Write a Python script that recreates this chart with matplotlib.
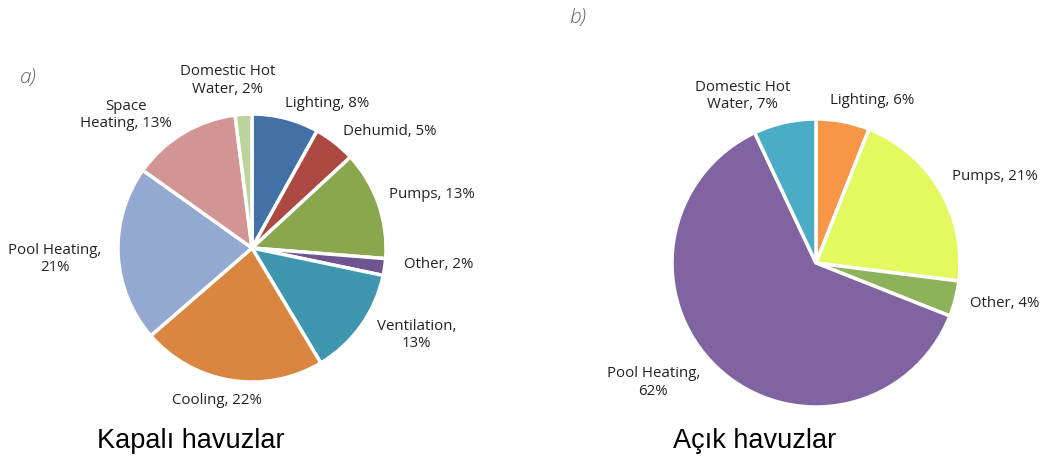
import matplotlib.pyplot as plt

# Kapalı havuzlar (indoor pools)
in_labels = ['Lighting', 'Dehumid', 'Pumps', 'Other', 'Ventilation',
             'Cooling', 'Pool Heating', 'Space Heating', 'Domestic Hot Water']
in_values = [8, 5, 13, 2, 13, 22, 21, 13, 2]
in_text = ['Lighting, 8%', 'Dehumid, 5%', 'Pumps, 13%', 'Other, 2%',
           'Ventilation,\n13%', 'Cooling, 22%', 'Pool Heating,\n21%',
           'Space\nHeating, 13%', 'Domestic Hot\nWater, 2%']
in_colors = ['#4470A8', '#AE4843', '#8BA74E', '#6E558F', '#3E97AE',
             '#DB8640', '#94A9D1', '#D39593', '#BCD39C']

# Açık havuzlar (outdoor pools)
out_labels = ['Lighting', 'Pumps', 'Other', 'Pool Heating', 'Domestic Hot Water']
out_values = [6, 21, 4, 62, 7]
out_text = ['Lighting, 6%', 'Pumps, 21%', 'Other, 4%',
            'Pool Heating,\n62%', 'Domestic Hot\nWater, 7%']
out_colors = ['#F79646', '#E3F95F', '#8DB35A', '#8064A2', '#4BACC6']

# label positions in units of pie radius
in_pos = [(0.56, 1.08), (1.03, 0.87), (1.34, 0.40), (1.39, -0.12), (1.23, -0.65),
          (-0.26, -1.14), (-1.47, -0.08), (-0.94, 0.99), (-0.18, 1.25)]
out_pos = [(0.39, 1.13), (1.24, 0.60), (1.31, -0.28), (-1.13, -0.83), (-0.51, 1.16)]

W, H = 1043, 459
fig = plt.figure(figsize=(W / 100, H / 100), dpi=100)


def make_pie(cx, cy, r, values, colors, texts, pos):
    # axes spanning +-1.6 radius around the centre (pixel coords)
    s = 1.6 * r
    ax = fig.add_axes([(cx - s) / W, 1 - (cy + s) / H, 2 * s / W, 2 * s / H])
    ax.pie(values, colors=colors, startangle=90, counterclock=False,
           radius=1, wedgeprops=dict(edgecolor='white', linewidth=2.5))
    for t, (x, y) in zip(texts, pos):
        ax.text(x, y, t, ha='center', va='center', fontsize=10.8,
                family='Open Sans', color='#222222', linespacing=1.2)
    ax.set_xlim(-1.6, 1.6)
    ax.set_ylim(-1.6, 1.6)
    ax.set_aspect('equal')
    ax.axis('off')
    return ax


make_pie(252, 248, 134, in_values, in_colors, in_text, in_pos)
make_pie(816, 263, 144, out_values, out_colors, out_text, out_pos)

fig.text(20 / W, 1 - 78 / H, 'a)', fontsize=15, style='italic', color='#666666',
         family='Open Sans', fontweight='light', ha='left', va='center')
fig.text(569 / W, 1 - 18 / H, 'b)', fontsize=15, style='italic', color='#666666',
         family='Open Sans', fontweight='light', ha='left', va='center')

fig.text(191 / W, 1 - 441 / H, 'Kapalı havuzlar', fontsize=19.5,
         family='Liberation Sans', ha='center', va='center')
fig.text(755 / W, 1 - 441 / H, 'Açık havuzlar', fontsize=19.5,
         family='Liberation Sans', ha='center', va='center')

fig.savefig('out.png', dpi=100, facecolor='white')
